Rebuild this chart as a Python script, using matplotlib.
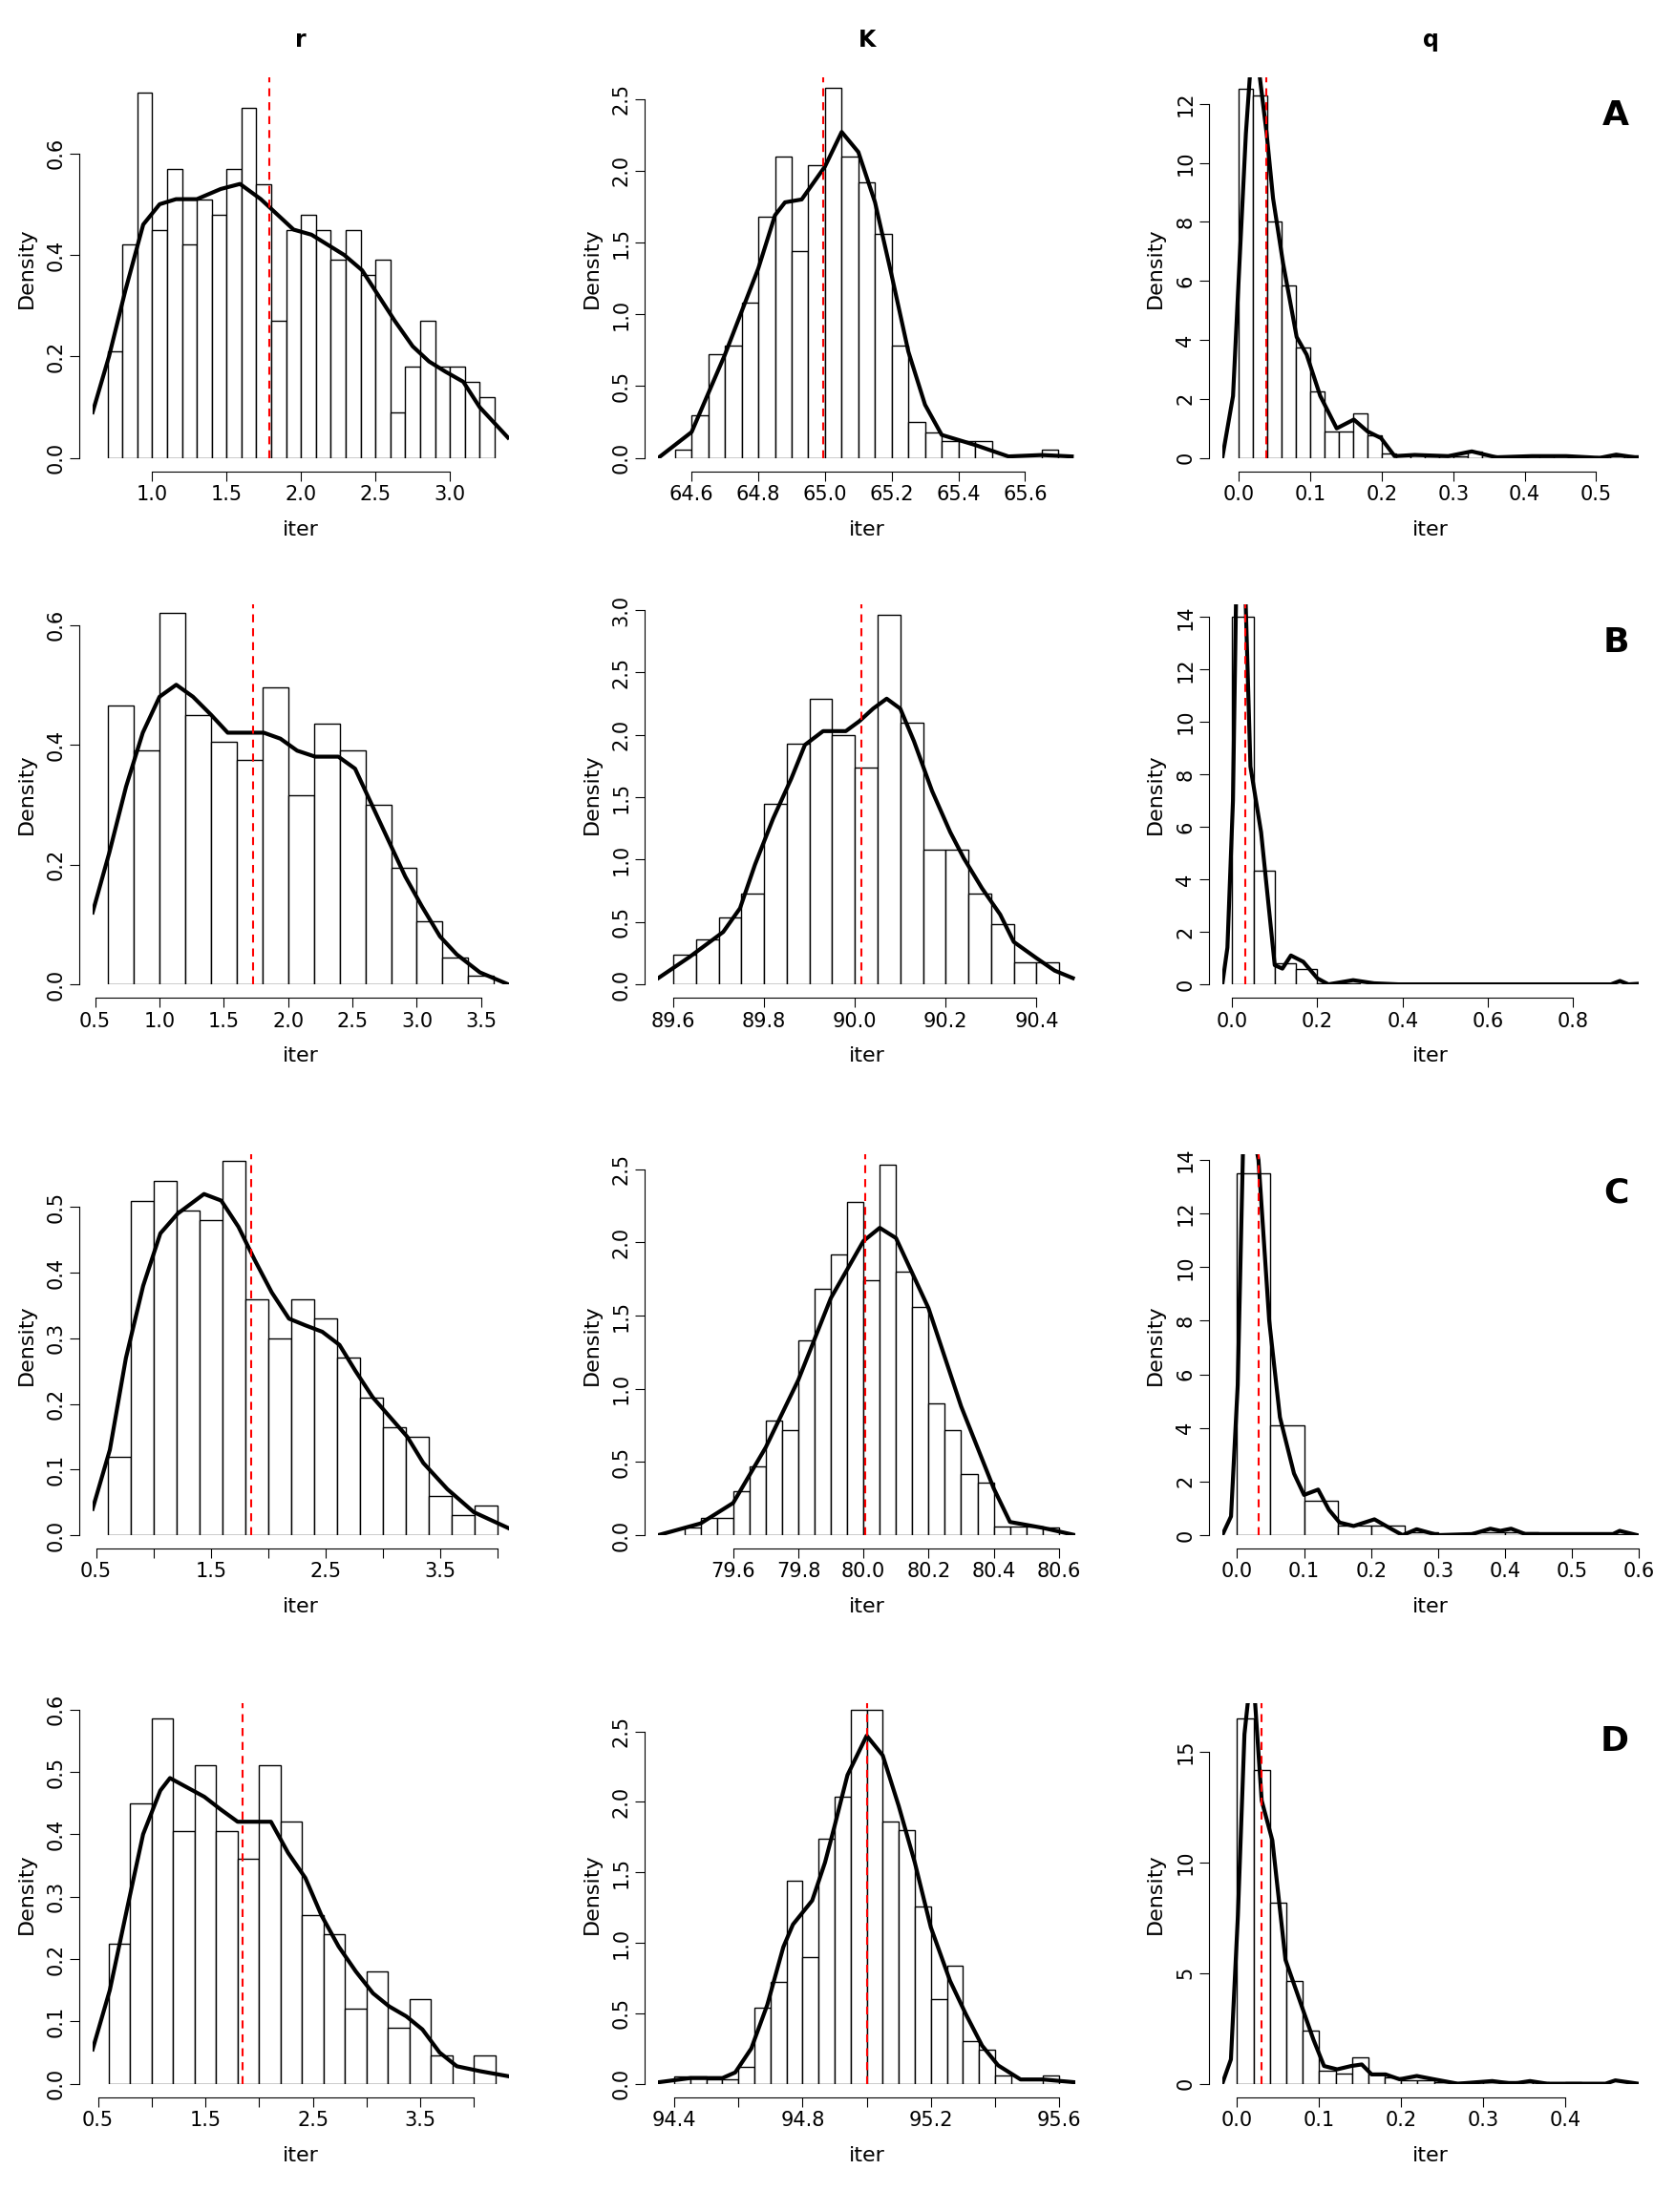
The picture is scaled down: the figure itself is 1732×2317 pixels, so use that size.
#!/usr/bin/env python3

'''Plot posterior histograms of r, K and q for four scenarios.'''

import matplotlib.pyplot as plt


LW_CURVE = 3.0
LW_BAR = 1.0
FS = 15

X_LABEL = 'iter'
Y_LABEL = 'Density'
COLUMNS = ['r', 'K', 'q']
ROWS = ['A', 'B', 'C', 'D']

# start, width, heights, curve (x, y), red line, xlim, ylim, xticks, yticks
PANELS = {
    ('A', 'r'): dict(
        start=0.7, width=0.1,
        heights=[0.21, 0.42, 0.72, 0.45, 0.57, 0.42, 0.51, 0.48, 0.57, 0.69, 0.54, 0.27, 0.45,
                 0.48, 0.45, 0.39, 0.45, 0.36, 0.39, 0.09, 0.18, 0.27, 0.18, 0.18, 0.15, 0.12],
        curve=[(0.60, 0.09), (0.71, 0.20), (0.82, 0.33), (0.94, 0.46), (1.05, 0.50), (1.16, 0.51),
               (1.30, 0.51), (1.46, 0.53), (1.59, 0.54), (1.73, 0.51), (1.84, 0.48), (1.95, 0.45),
               (2.07, 0.44), (2.18, 0.42), (2.29, 0.40), (2.41, 0.37), (2.52, 0.32), (2.63, 0.27),
               (2.75, 0.22), (2.86, 0.19), (2.97, 0.17), (3.09, 0.15), (3.20, 0.10), (3.39, 0.04)],
        red=1.785, xlim=(0.6, 3.4), ylim=(0, 0.75),
        xticks=[1.0, 1.5, 2.0, 2.5, 3.0], yticks=[0.0, 0.2, 0.4, 0.6]),
    ('A', 'K'): dict(
        start=64.55, width=0.05,
        heights=[0.06, 0.30, 0.72, 0.78, 1.08, 1.68, 2.10, 1.44, 2.04, 2.58, 2.10, 1.92, 1.56,
                 0.78, 0.25, 0.18, 0.12, 0.12, 0.12, 0.0, 0.0, 0.0, 0.06],
        curve=[(64.50, 0.0), (64.60, 0.18), (64.70, 0.72), (64.80, 1.32), (64.85, 1.69),
               (64.88, 1.78), (64.93, 1.80), (65.00, 2.03), (65.05, 2.27), (65.10, 2.13),
               (65.15, 1.78), (65.20, 1.27), (65.25, 0.74), (65.30, 0.37), (65.35, 0.16),
               (65.45, 0.09), (65.55, 0.01), (65.65, 0.02), (65.74, 0.01)],
        red=64.994, xlim=(64.5, 65.75), ylim=(0, 2.65),
        xticks=[64.6, 64.8, 65.0, 65.2, 65.4, 65.6], yticks=[0.0, 0.5, 1.0, 1.5, 2.0, 2.5]),
    ('A', 'q'): dict(
        start=0.0, width=0.02,
        heights=[12.5, 12.3, 8.0, 5.85, 3.75, 2.25, 0.9, 0.9, 1.5, 0.75, 0.15, 0.1, 0.1, 0.05,
                 0.05, 0.05, 0.2, 0.1, 0.05, 0.0, 0.05, 0.05, 0.0, 0.05, 0.0, 0.05, 0.05, 0.1],
        curve=[(-0.023, 0.0), (-0.008, 2.1), (0.001, 6.6), (0.010, 11.0), (0.020, 14.5),
               (0.029, 13.0), (0.039, 11.0), (0.048, 8.8), (0.062, 6.6), (0.081, 4.1),
               (0.095, 3.5), (0.114, 2.1), (0.137, 1.0), (0.161, 1.3), (0.18, 0.9), (0.199, 0.67),
               (0.218, 0.06), (0.246, 0.1), (0.293, 0.06), (0.326, 0.22), (0.36, 0.02),
               (0.41, 0.06), (0.458, 0.06), (0.505, 0.0), (0.528, 0.11), (0.559, 0.0)],
        red=0.0386, xlim=(-0.023, 0.56), ylim=(0, 12.9),
        xticks=[0.0, 0.1, 0.2, 0.3, 0.4, 0.5], yticks=[0, 2, 4, 6, 8, 10, 12]),
    ('B', 'r'): dict(
        start=0.6, width=0.2,
        heights=[0.465, 0.39, 0.62, 0.45, 0.405, 0.375, 0.495, 0.315, 0.435, 0.39, 0.30, 0.195,
                 0.105, 0.045, 0.015],
        curve=[(0.48, 0.12), (0.61, 0.22), (0.74, 0.33), (0.87, 0.42), (1.0, 0.48), (1.13, 0.50),
               (1.26, 0.48), (1.40, 0.45), (1.53, 0.42), (1.66, 0.42), (1.81, 0.42), (1.94, 0.41),
               (2.07, 0.39), (2.21, 0.38), (2.39, 0.38), (2.52, 0.36), (2.65, 0.30), (2.78, 0.24),
               (2.91, 0.18), (3.04, 0.13), (3.18, 0.08), (3.31, 0.05), (3.49, 0.02), (3.71, 0.0)],
        red=1.73, xlim=(0.48, 3.72), ylim=(0, 0.635),
        xticks=[0.5, 1.0, 1.5, 2.0, 2.5, 3.0, 3.5], yticks=[0.0, 0.2, 0.4, 0.6]),
    ('B', 'K'): dict(
        start=89.6, width=0.05,
        heights=[0.24, 0.36, 0.54, 0.73, 1.45, 1.93, 2.29, 2.0, 1.74, 2.96, 2.1, 1.08, 1.08,
                 0.73, 0.48, 0.18, 0.18],
        curve=[(89.567, 0.05), (89.636, 0.22), (89.71, 0.42), (89.747, 0.61), (89.78, 0.96),
               (89.82, 1.33), (89.86, 1.65), (89.89, 1.92), (89.93, 2.03), (89.98, 2.03),
               (90.01, 2.11), (90.04, 2.21), (90.07, 2.29), (90.10, 2.21), (90.13, 1.95),
               (90.17, 1.55), (90.21, 1.22), (90.24, 1.01), (90.28, 0.77), (90.32, 0.56),
               (90.35, 0.34), (90.40, 0.21), (90.44, 0.11), (90.48, 0.05)],
        red=90.015, xlim=(89.567, 90.485), ylim=(0, 3.05),
        xticks=[89.6, 89.8, 90.0, 90.2, 90.4], yticks=[0.0, 0.5, 1.0, 1.5, 2.0, 2.5, 3.0]),
    ('B', 'q'): dict(
        start=0.0, width=0.05,
        heights=[14.0, 4.35, 0.8, 0.6, 0.05, 0.03, 0.02, 0.0, 0.0, 0.0, 0.0, 0.0, 0.0, 0.0,
                 0.0, 0.0, 0.0, 0.0, 0.02],
        curve=[(-0.023, 0.0), (-0.011, 1.4), (0.002, 7.0), (0.01, 15.5), (0.02, 17.0),
               (0.031, 15.0), (0.043, 8.3), (0.068, 5.8), (0.10, 0.73), (0.118, 0.6),
               (0.138, 1.1), (0.167, 0.86), (0.2, 0.23), (0.226, 0.0), (0.284, 0.16),
               (0.333, 0.04), (0.39, 0.0), (0.889, 0.0), (0.91, 0.13), (0.93, 0.0), (0.951, 0.02)],
        red=0.031, xlim=(-0.023, 0.955), ylim=(0, 14.5),
        xticks=[0.0, 0.2, 0.4, 0.6, 0.8], yticks=[0, 2, 4, 6, 8, 10, 12, 14]),
    ('C', 'r'): dict(
        start=0.6, width=0.2,
        heights=[0.12, 0.51, 0.54, 0.495, 0.48, 0.57, 0.36, 0.30, 0.36, 0.33, 0.27, 0.21,
                 0.165, 0.15, 0.06, 0.03, 0.045],
        curve=[(0.47, 0.04), (0.62, 0.13), (0.76, 0.27), (0.91, 0.38), (1.06, 0.46), (1.21, 0.49),
               (1.44, 0.52), (1.59, 0.51), (1.74, 0.47), (1.88, 0.42), (2.03, 0.37), (2.18, 0.33),
               (2.32, 0.32), (2.47, 0.31), (2.62, 0.29), (2.76, 0.25), (2.91, 0.21), (3.06, 0.18),
               (3.21, 0.15), (3.35, 0.11), (3.56, 0.07), (3.79, 0.035), (4.10, 0.01)],
        red=1.85, xlim=(0.47, 4.1), ylim=(0, 0.58),
        xticks=[0.5, 1.0, 1.5, 2.0, 2.5, 3.0, 3.5, 4.0], yticks=[0.0, 0.1, 0.2, 0.3, 0.4, 0.5],
        xlabels=['0.5', '', '1.5', '', '2.5', '', '3.5', '']),
    ('C', 'K'): dict(
        start=79.45, width=0.05,
        heights=[0.05, 0.12, 0.12, 0.30, 0.47, 0.78, 0.72, 1.33, 1.68, 1.92, 2.28, 1.74, 2.53,
                 1.8, 1.56, 0.9, 0.72, 0.42, 0.36, 0.06, 0.06, 0.06, 0.05],
        curve=[(79.37, 0.0), (79.5, 0.08), (79.6, 0.22), (79.7, 0.6), (79.8, 1.06), (79.9, 1.62),
               (80.0, 2.01), (80.05, 2.1), (80.1, 2.03), (80.2, 1.55), (80.3, 0.88), (80.4, 0.32),
               (80.45, 0.09), (80.55, 0.05), (80.65, 0.0)],
        red=80.004, xlim=(79.37, 80.65), ylim=(0, 2.6),
        xticks=[79.6, 79.8, 80.0, 80.2, 80.4, 80.6], yticks=[0.0, 0.5, 1.0, 1.5, 2.0, 2.5]),
    ('C', 'q'): dict(
        start=0.0, width=0.05,
        heights=[13.5, 4.08, 1.27, 0.37, 0.37, 0.1, 0.05, 0.1, 0.1, 0.02, 0.02, 0.02],
        curve=[(-0.022, 0.0), (-0.009, 0.7), (0.001, 5.6), (0.009, 14.5), (0.017, 16.0),
               (0.032, 14.0), (0.048, 8.0), (0.064, 4.4), (0.085, 2.3), (0.10, 1.5),
               (0.121, 1.7), (0.137, 0.95), (0.153, 0.47), (0.174, 0.34), (0.205, 0.59),
               (0.231, 0.22), (0.247, 0.0), (0.268, 0.22), (0.30, 0.0), (0.351, 0.04),
               (0.378, 0.24), (0.393, 0.16), (0.409, 0.24), (0.43, 0.04), (0.561, 0.04),
               (0.571, 0.16), (0.597, 0.0)],
        red=0.032, xlim=(-0.022, 0.6), ylim=(0, 14.2),
        xticks=[0.0, 0.1, 0.2, 0.3, 0.4, 0.5, 0.6], yticks=[0, 2, 4, 6, 8, 10, 12, 14]),
    ('D', 'r'): dict(
        start=0.6, width=0.2,
        heights=[0.225, 0.45, 0.585, 0.405, 0.51, 0.405, 0.36, 0.51, 0.42, 0.27, 0.24, 0.12,
                 0.18, 0.09, 0.135, 0.045, 0.0, 0.045],
        curve=[(0.45, 0.055), (0.61, 0.15), (0.77, 0.28), (0.92, 0.40), (1.08, 0.47), (1.17, 0.49),
               (1.33, 0.475), (1.49, 0.46), (1.64, 0.44), (1.80, 0.42), (1.96, 0.42), (2.11, 0.42),
               (2.27, 0.37), (2.43, 0.33), (2.58, 0.27), (2.74, 0.22), (2.90, 0.18), (3.06, 0.145),
               (3.21, 0.124), (3.37, 0.108), (3.52, 0.087), (3.68, 0.05), (3.84, 0.028),
               (4.06, 0.02), (4.32, 0.012)],
        red=1.85, xlim=(0.45, 4.33), ylim=(0, 0.61),
        xticks=[0.5, 1.0, 1.5, 2.0, 2.5, 3.0, 3.5, 4.0],
        yticks=[0.0, 0.1, 0.2, 0.3, 0.4, 0.5, 0.6],
        xlabels=['0.5', '', '1.5', '', '2.5', '', '3.5', '']),
    ('D', 'K'): dict(
        start=94.4, width=0.05,
        heights=[0.05, 0.05, 0.03, 0.03, 0.12, 0.54, 0.72, 1.44, 0.90, 1.74, 2.04, 2.65, 2.65,
                 1.86, 1.80, 1.26, 0.60, 0.84, 0.30, 0.24, 0.06, 0.0, 0.0, 0.06],
        curve=[(94.35, 0.01), (94.45, 0.04), (94.55, 0.04), (94.59, 0.08), (94.64, 0.25),
               (94.69, 0.56), (94.74, 0.97), (94.77, 1.13), (94.83, 1.30), (94.87, 1.57),
               (94.90, 1.83), (94.94, 2.19), (95.0, 2.47), (95.05, 2.33), (95.10, 1.97),
               (95.15, 1.57), (95.20, 1.11), (95.26, 0.73), (95.31, 0.49), (95.36, 0.27),
               (95.41, 0.13), (95.48, 0.03), (95.55, 0.03), (95.65, 0.01)],
        red=95.0, xlim=(94.35, 95.65), ylim=(0, 2.7),
        xticks=[94.4, 94.6, 94.8, 95.0, 95.2, 95.4, 95.6], yticks=[0.0, 0.5, 1.0, 1.5, 2.0, 2.5],
        xlabels=['94.4', '', '94.8', '', '95.2', '', '95.6']),
    ('D', 'q'): dict(
        start=0.0, width=0.02,
        heights=[16.5, 14.2, 8.2, 4.65, 2.4, 0.6, 0.45, 1.2, 0.45, 0.3, 0.15, 0.15, 0.05,
                 0.05, 0.05, 0.05, 0.1, 0.05, 0.05, 0.0, 0.05],
        curve=[(-0.018, 0.0), (-0.0075, 1.1), (0.001, 7.6), (0.009, 15.8), (0.013, 17.2),
               (0.018, 17.6), (0.022, 17.2), (0.030, 12.8), (0.043, 11.0), (0.051, 8.3),
               (0.059, 5.6), (0.076, 3.8), (0.093, 2.0), (0.106, 0.8), (0.122, 0.65),
               (0.139, 0.8), (0.152, 0.87), (0.164, 0.42), (0.181, 0.42), (0.198, 0.2),
               (0.219, 0.35), (0.24, 0.2), (0.269, 0.0), (0.311, 0.12), (0.336, 0.0),
               (0.357, 0.12), (0.378, 0.0), (0.449, 0.0), (0.461, 0.15), (0.489, 0.0)],
        red=0.030, xlim=(-0.018, 0.49), ylim=(0, 17.2),
        xticks=[0.0, 0.1, 0.2, 0.3, 0.4], yticks=[0, 5, 10, 15]),
}

LEFTS = [0.056, 0.398, 0.739]
WIDTH = 0.252
BOTTOMS = [0.793, 0.555, 0.306, 0.058]
HEIGHT = 0.172


def format_axis(axis, panel):
    '''Give the axis the look of an R base plot.'''
    for side in ('top', 'right'):
        axis.spines[side].set_visible(False)
    for side in ('left', 'bottom'):
        axis.spines[side].set_position(('outward', 10))
    axis.set_xlim(panel['xlim'])
    axis.set_ylim(panel['ylim'])
    axis.set_xticks(panel['xticks'])
    if 'xlabels' in panel:
        axis.set_xticklabels(panel['xlabels'])
    axis.set_yticks(panel['yticks'])
    axis.spines['bottom'].set_bounds(panel['xticks'][0], panel['xticks'][-1])
    axis.spines['left'].set_bounds(panel['yticks'][0], panel['yticks'][-1])
    axis.tick_params(labelsize=FS, length=7)
    for label in axis.get_yticklabels():
        label.set_rotation(90)
        label.set_va('center')
    axis.set_xlabel(X_LABEL, fontsize=FS + 1, labelpad=12)
    axis.set_ylabel(Y_LABEL, fontsize=FS + 1, labelpad=8)


def plot_panel(axis, panel):
    '''Draw histogram, density curve and red reference line.'''
    lefts = [panel['start'] + i * panel['width'] for i in range(len(panel['heights']))]
    axis.bar(lefts, panel['heights'], width=panel['width'], align='edge',
             facecolor='white', edgecolor='black', linewidth=LW_BAR)
    xs = [p[0] for p in panel['curve']]
    ys = [p[1] for p in panel['curve']]
    axis.plot(xs, ys, color='black', linewidth=LW_CURVE, clip_on=True)
    axis.axvline(panel['red'], color='red', linestyle=(0, (4, 3)), linewidth=1.5)
    format_axis(axis, panel)


def plot_graphs():
    '''Plot all panels and save the figure.'''
    fig = plt.figure(figsize=(17.32, 23.17), dpi=100)
    for row, (letter, bottom) in enumerate(zip(ROWS, BOTTOMS)):
        for col, (name, left) in enumerate(zip(COLUMNS, LEFTS)):
            axis = fig.add_axes([left, bottom, WIDTH, HEIGHT])
            plot_panel(axis, PANELS[(letter, name)])
            if row == 0:
                fig.text(left + WIDTH / 2, 0.982, name, ha='center', va='center',
                         fontsize=FS + 2, fontweight='bold')
        fig.text(0.985, bottom + HEIGHT - 0.01, letter, ha='right', va='top',
                 fontsize=26, fontweight='bold')
    #plt.show()
    plt.savefig('out.png', dpi=100)


if __name__ == '__main__':
    plot_graphs()
